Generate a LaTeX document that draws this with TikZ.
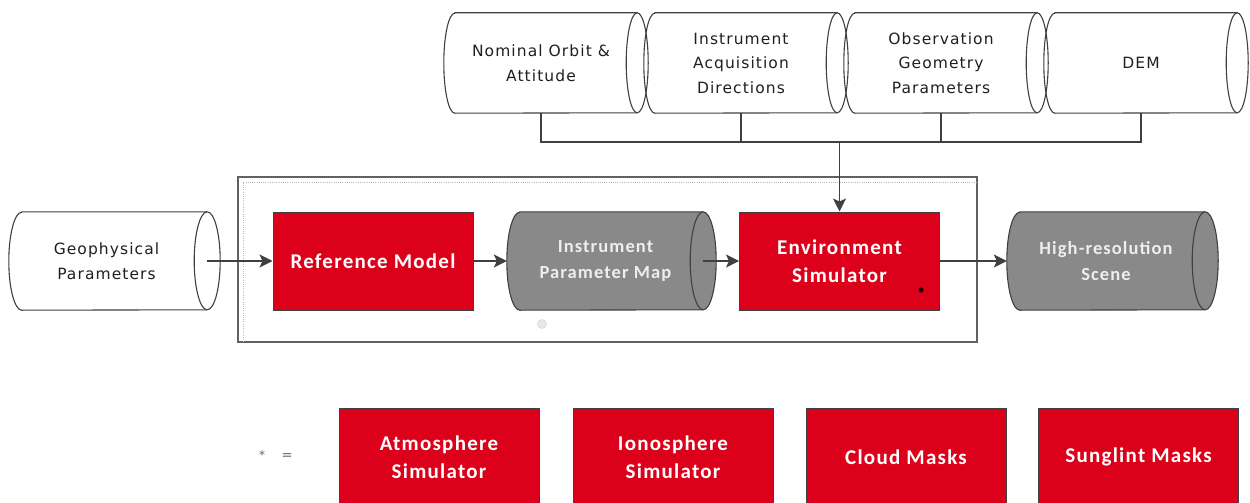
\documentclass[tikz,border=0pt]{standalone}
\usepackage{fontspec}
\usetikzlibrary{arrows.meta,calc}

\newfontfamily\plainlbl[LetterSpace=7]{DejaVu Sans}
\newfontfamily\boldlbl[LetterSpace=6]{Carlito}

\definecolor{simred}{RGB}{221,0,26}
\definecolor{drumgrey}{RGB}{137,137,137}
\definecolor{edge}{RGB}{64,64,64}
\definecolor{paletext}{RGB}{238,238,238}

% Outline of a horizontal drum: flat body from the node's west side to
% #3 past its east side, curved back end on the left, full ellipse on the right.
% #1 node, #2 end radius, #3 shift of the right end, #4 half height, #5 style
\newcommand\drumoutline[5]{%
  \path[#5] (#1.north west) -- ([xshift=#3]#1.north east)
     arc[start angle=90,end angle=-90,x radius=#2,y radius=#4]
     -- (#1.south west)
     arc[start angle=270,end angle=90,x radius=#2,y radius=#4] -- cycle;
  \path[drumedge] ([xshift=#3]#1.north east)
     arc[start angle=90,end angle=270,x radius=#2,y radius=#4];
}

\tikzset{
  drumedge/.style={draw=edge, line width=1.1pt},
  drumwhite/.style={drumedge, fill=white},
  drumgrey/.style={drumedge, fill=drumgrey},
  toplbl/.style={inner sep=0pt, minimum width=172pt, minimum height=100pt,
    align=center, text=black!88, font=\plainlbl\fontsize{15.5}{24.5}\selectfont},
  midlbl/.style={inner sep=0pt, minimum height=98pt, align=center},
  plaintext/.style={text=black!88, font=\plainlbl\fontsize{15.5}{25.5}\selectfont},
  greytext/.style={text=paletext, font=\boldlbl\bfseries\fontsize{18.5}{26}\selectfont},
  redbox/.style={draw=edge, line width=1pt, fill=simred, text=white,
    minimum width=200pt, minimum height=98pt, inner sep=0pt, align=center,
    font=\boldlbl\bfseries\fontsize{21}{27.5}\selectfont},
  link/.style={draw=edge, line width=1.1pt},
  flow/.style={link, -{Stealth[length=13pt,width=13pt,inset=3pt]}},
}

\begin{document}
\begin{tikzpicture}[x=1pt,y=-1pt]
\useasboundingbox (0,0) rectangle (1250,503);
\clip (0,0) rectangle (1250,503);

% input data stores along the top
\node[toplbl] (orbit) at (541,63) {Nominal Orbit \&\\Attitude};
\node[toplbl] (acq)   at (741,63) {Instrument\\Acquisition\\Directions};
\node[toplbl] (geom)  at (941,63) {Observation\\Geometry\\Parameters};
\node[toplbl] (dem)   at (1141,63) {DEM};
\foreach \n in {orbit,acq,geom,dem}{\drumoutline{\n}{11pt}{10pt}{50pt}{drumedge}}

% processing group frame
\node[draw=black!62, line width=1.3pt, minimum width=739pt, minimum height=165pt,
      inner sep=0pt] (grp) at (607.5,259.5) {};
\draw[draw=black!28, line width=1pt, dash pattern=on 1pt off 1.2pt]
  (977,182) -- (243,182) -- (243,342);

% main chain
\node[midlbl, minimum width=169pt] (geo) at (106.5,261) {};
\drumoutline{geo}{13pt}{16pt}{49pt}{drumwhite}
\node[plaintext, align=center] at (geo) {Geophysical\\Parameters};

\node[redbox] (ref) at (373,261) {Reference Model};

\node[midlbl, minimum width=171pt] (ipm) at (605.5,261) {};
\drumoutline{ipm}{13pt}{12pt}{49pt}{drumgrey}
\node[greytext, align=center] at (ipm) {Instrument\\Parameter Map};

\node[redbox] (env) at (839.5,261) {Environment\\Simulator};
\fill[black!85!red] (921,290) circle[radius=2.6pt];
\filldraw[fill=black!9, draw=black!15, line width=0.6pt] (542,324) circle[radius=4.5pt];

\node[midlbl, minimum width=172pt] (hrs) at (1106,261) {};
\drumoutline{hrs}{13pt}{13pt}{49pt}{drumgrey}
\node[greytext, align=center] at (hrs) {High-resolution\\Scene};

% connectors
\coordinate (bus) at (0,142);
\draw[link] (orbit.south) -- (orbit.south |- bus) -- (dem.south |- bus) -- (dem.south);
\draw[link] (acq.south) -- (acq.south |- bus);
\draw[link] (geom.south) -- (geom.south |- bus);
\draw[flow] (env.north |- bus) -- (env.north);

\draw[flow] ([xshift=16pt]geo.east) -- (ref.west);
\draw[flow] (ref.east) -- ([xshift=-13pt]ipm.west);
\draw[flow] ([xshift=12pt]ipm.east) -- (env.west);
\draw[flow] (env.east) -- ([xshift=-13pt]hrs.west);

% key for the starred block
\node[text=black!60, font=\plainlbl\fontsize{12}{14}\selectfont] (star) at (262,455) {*};
\node[text=black!60, font=\plainlbl\fontsize{13}{14}\selectfont] (eq) at (287,457) {=};
\node[redbox] (atm)   at (439,457)  {Atmosphere\\Simulator};
\node[redbox] (iono)  at (673,457)  {Ionosphere\\Simulator};
\node[redbox] (cloud) at (906,457)  {Cloud Masks};
\node[redbox] (sun)   at (1138.5,457) {Sunglint Masks};
\end{tikzpicture}
\end{document}
